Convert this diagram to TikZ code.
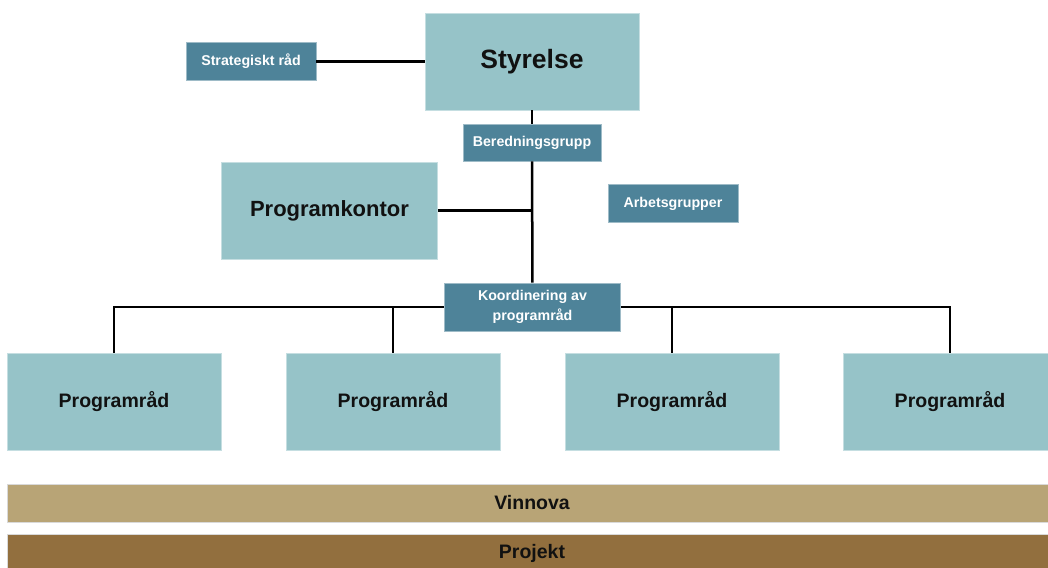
\documentclass[tikz,border=0pt]{standalone}
\usepackage{fontspec}
\setmainfont{Liberation Sans}
\definecolor{lightteal}{HTML}{96C3C8}
\definecolor{darkteal}{HTML}{4E8399}
\definecolor{vinnovacol}{HTML}{B8A476}
\definecolor{projektcol}{HTML}{926F3E}
\definecolor{txtdark}{HTML}{111111}
\tikzset{
  bigbox/.style={fill=lightteal, draw=lightteal!55!white, line width=0.8pt, inner sep=0pt,
    minimum width=214pt, minimum height=97pt, text=txtdark, font=\bfseries\fontsize{19.5}{23}\selectfont},
  smallbox/.style={fill=darkteal, draw=darkteal!55!white, line width=0.8pt, inner sep=0pt,
    minimum width=130pt, minimum height=38pt, text=white, font=\bfseries\fontsize{14.2}{20}\selectfont},
  barbox/.style={draw=white!85!black, line width=0.8pt, inner sep=0pt, minimum width=1049pt},
  bartext/.style={text=txtdark, font=\bfseries\fontsize{19.5}{23}\selectfont},
  link/.style={line width=2.5pt, black}
}
\begin{document}
\begin{tikzpicture}[x=1pt,y=-1pt]
\clip (0,0) rectangle (1048,567);
\useasboundingbox (0,0) rectangle (1048,567);
% nodes
\node[bigbox, font=\bfseries\fontsize{26.5}{30}\selectfont] (sty) at (532,61.5) {Styrelse};
\node[smallbox] (strat) at (251,61.5) {Strategiskt råd};
\node[smallbox, minimum width=138pt, minimum height=37pt] (bered) at (532,142.5) {Beredningsgrupp};
\node[bigbox, minimum width=216pt, font=\bfseries\fontsize{22}{26}\selectfont] (pk) at (329.5,210.5) {Programkontor};
\node[smallbox] (arb) at (673,203.5) {Arbetsgrupper};
\node[smallbox, minimum width=176pt, minimum height=48pt, align=center] (koord) at (532.5,307) {Koordinering av\\programråd};
\node[bigbox] (p1) at (114,401.5) {Programråd};
\node[bigbox] (p2) at (393,401.5) {Programråd};
\node[bigbox] (p3) at (672,401.5) {Programråd};
\node[bigbox] (p4) at (950,401.5) {Programråd};
\node[barbox, fill=vinnovacol, minimum height=38pt, anchor=west] (vin) at (7,503) {};
\node[bartext] (vint) at (532,503) {Vinnova};
\node[barbox, fill=projektcol, minimum height=44pt, anchor=north west] (proj) at (7,534) {};
\node[bartext] (projt) at (532,553) {Projekt};
% connectors
\draw[link] (strat) -- (sty);
\draw[link] (sty) -- (bered);
\draw[link] (bered) -- (koord);
\draw[link] (pk.east) -- (pk.east -| bered.south);
\draw[link] (p1.north) |- (koord.west);
\draw[link] (p4.north) |- (koord.east);
\draw[link] (p2.north) -- (p2.north |- koord.center);
\draw[link] (p3.north) -- (p3.north |- koord.center);
\end{tikzpicture}
\end{document}
